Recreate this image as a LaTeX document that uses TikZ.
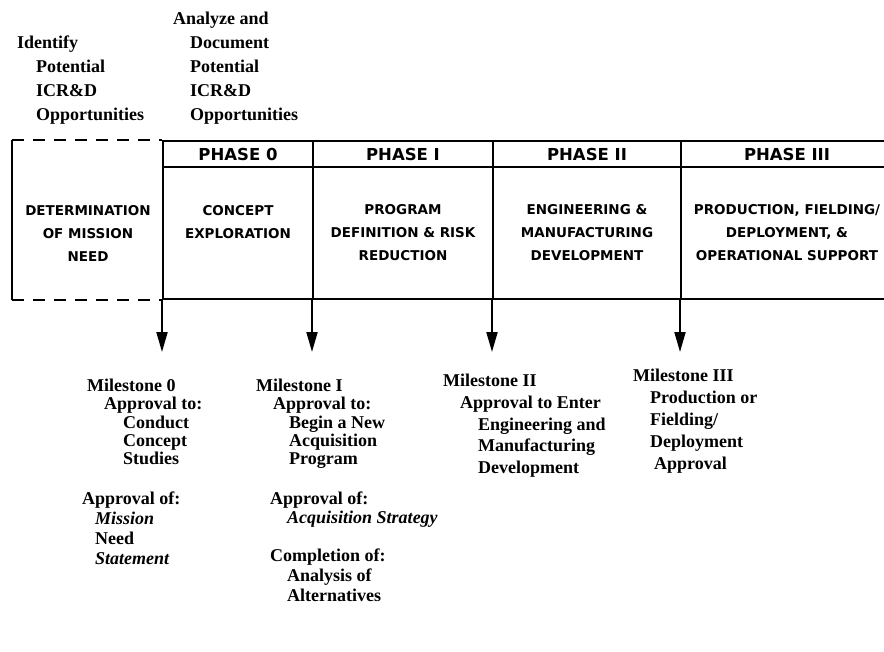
\documentclass[tikz,border=0pt]{standalone}
\usepackage{fontspec}
\setmainfont{Liberation Serif}
\newfontfamily\phasefont{DejaVu Sans}
\usetikzlibrary{arrows.meta}

\tikzstyle{phasehead} = [draw, rectangle, line width=2pt, text centered, minimum height=26pt, font=\phasefont\bfseries\fontsize{16.5}{18}\selectfont]
\tikzstyle{phasebody} = [draw, rectangle, line width=2pt, text centered, align=center, minimum height=132pt, font=\phasefont\bfseries\fontsize{13.5}{23}\selectfont]
\tikzstyle{toptext} = [anchor=north west, inner sep=0pt, align=left, font=\bfseries\fontsize{18}{24}\selectfont]
\tikzset{miletext/.style={anchor=north west, inner sep=0pt, align=left, font=\bfseries\fontsize{18}{#1}\selectfont}}
\tikzstyle{dashline} = [line width=2pt, dash pattern=on 12pt off 9pt]
\tikzstyle{arrow} = [draw, line width=2pt, -{Triangle[length=20pt, width=11pt]}]

\begin{document}
\begin{tikzpicture}[x=1pt, y=-1pt, node distance=165pt]
  \useasboundingbox (0,0) rectangle (884,651);

  \node [toptext] (identify) at (17,36) {Identify\\\hspace*{19pt}Potential\\\hspace*{19pt}ICR\&D\\\hspace*{19pt}Opportunities};
  \node [toptext] (analyze) at (173,12) {Analyze and\\\hspace*{17pt}Document\\\hspace*{17pt}Potential\\\hspace*{17pt}ICR\&D\\\hspace*{17pt}Opportunities};

  \node [phasehead, minimum width=150pt] (phase0) at (238,154) {PHASE 0};
  \node [phasehead, minimum width=180pt, right of=phase0] (phase1) {PHASE I};
  \node [phasehead, minimum width=188pt, right of=phase1, node distance=184pt] (phase2) {PHASE II};
  \node [phasehead, minimum width=212pt, right of=phase2, node distance=200pt] (phase3) {PHASE III};

  \node [phasebody, minimum width=150pt, below of=phase0, node distance=79pt] (concept) {CONCEPT\\EXPLORATION\\\mbox{}};
  \node [phasebody, minimum width=180pt, below of=phase1, node distance=79pt] (program) {PROGRAM\\DEFINITION \& RISK\\REDUCTION};
  \node [phasebody, minimum width=188pt, below of=phase2, node distance=79pt] (engineering) {ENGINEERING \&\\MANUFACTURING\\DEVELOPMENT};
  \node [phasebody, minimum width=212pt, below of=phase3, node distance=79pt] (production) {PRODUCTION, FIELDING/\\DEPLOYMENT, \&\\OPERATIONAL SUPPORT};
  \node [phasebody, draw=none, minimum width=150pt, left of=concept, node distance=150pt] (need) {DETERMINATION\\OF MISSION\\NEED};

  \draw [dashline] (need.west |- phase0.north) -- (phase0.north west);
  \draw [line width=2pt] (need.west |- phase0.north) -- (need.south west);
  \draw [dashline] (need.south west) -- (concept.south west);

  \coordinate (ms0) at ([yshift=-52pt]concept.south west);
  \coordinate (ms1) at ([yshift=-52pt]program.south west);
  \coordinate (ms2) at ([yshift=-52pt]engineering.south west);
  \coordinate (ms3) at ([yshift=-52pt]production.south west);
  \draw [arrow] (concept.south west) -- (ms0);
  \draw [arrow] (program.south west) -- (ms1);
  \draw [arrow] (engineering.south west) -- (ms2);
  \draw [arrow] (production.south west) -- (ms3);

  \node [miletext=18.3] (ms0text) at (87,379) {Milestone 0\\\hspace*{17pt}Approval to:\\\hspace*{36pt}Conduct\\\hspace*{36pt}Concept\\\hspace*{36pt}Studies};
  \node [miletext=20] (ms0need) at (82,492) {Approval of:\\\hspace*{13pt}\textit{Mission}\\\hspace*{13pt}Need\\\hspace*{13pt}\textit{Statement}};
  \node [miletext=18.3] (ms1text) at (256,379) {Milestone I\\\hspace*{17pt}Approval to:\\\hspace*{33pt}Begin a New\\\hspace*{33pt}Acquisition\\\hspace*{33pt}Program};
  \node [miletext=19] (ms1strategy) at (270,492) {Approval of:\\\hspace*{17pt}\textit{Acquisition Strategy}};
  \node [miletext=20] (ms1analysis) at (270,549) {Completion of:\\\hspace*{17pt}Analysis of\\\hspace*{17pt}Alternatives};
  \node [miletext=21.7] (ms2text) at (443,374) {Milestone II\\\hspace*{17pt}Approval to Enter\\\hspace*{35pt}Engineering and\\\hspace*{35pt}Manufacturing\\\hspace*{35pt}Development};
  \node [miletext=22] (ms3text) at (633,369) {Milestone III\\\hspace*{17pt}Production or\\\hspace*{17pt}Fielding/\\\hspace*{17pt}Deployment\\\hspace*{21pt}Approval};
\end{tikzpicture}
\end{document}
